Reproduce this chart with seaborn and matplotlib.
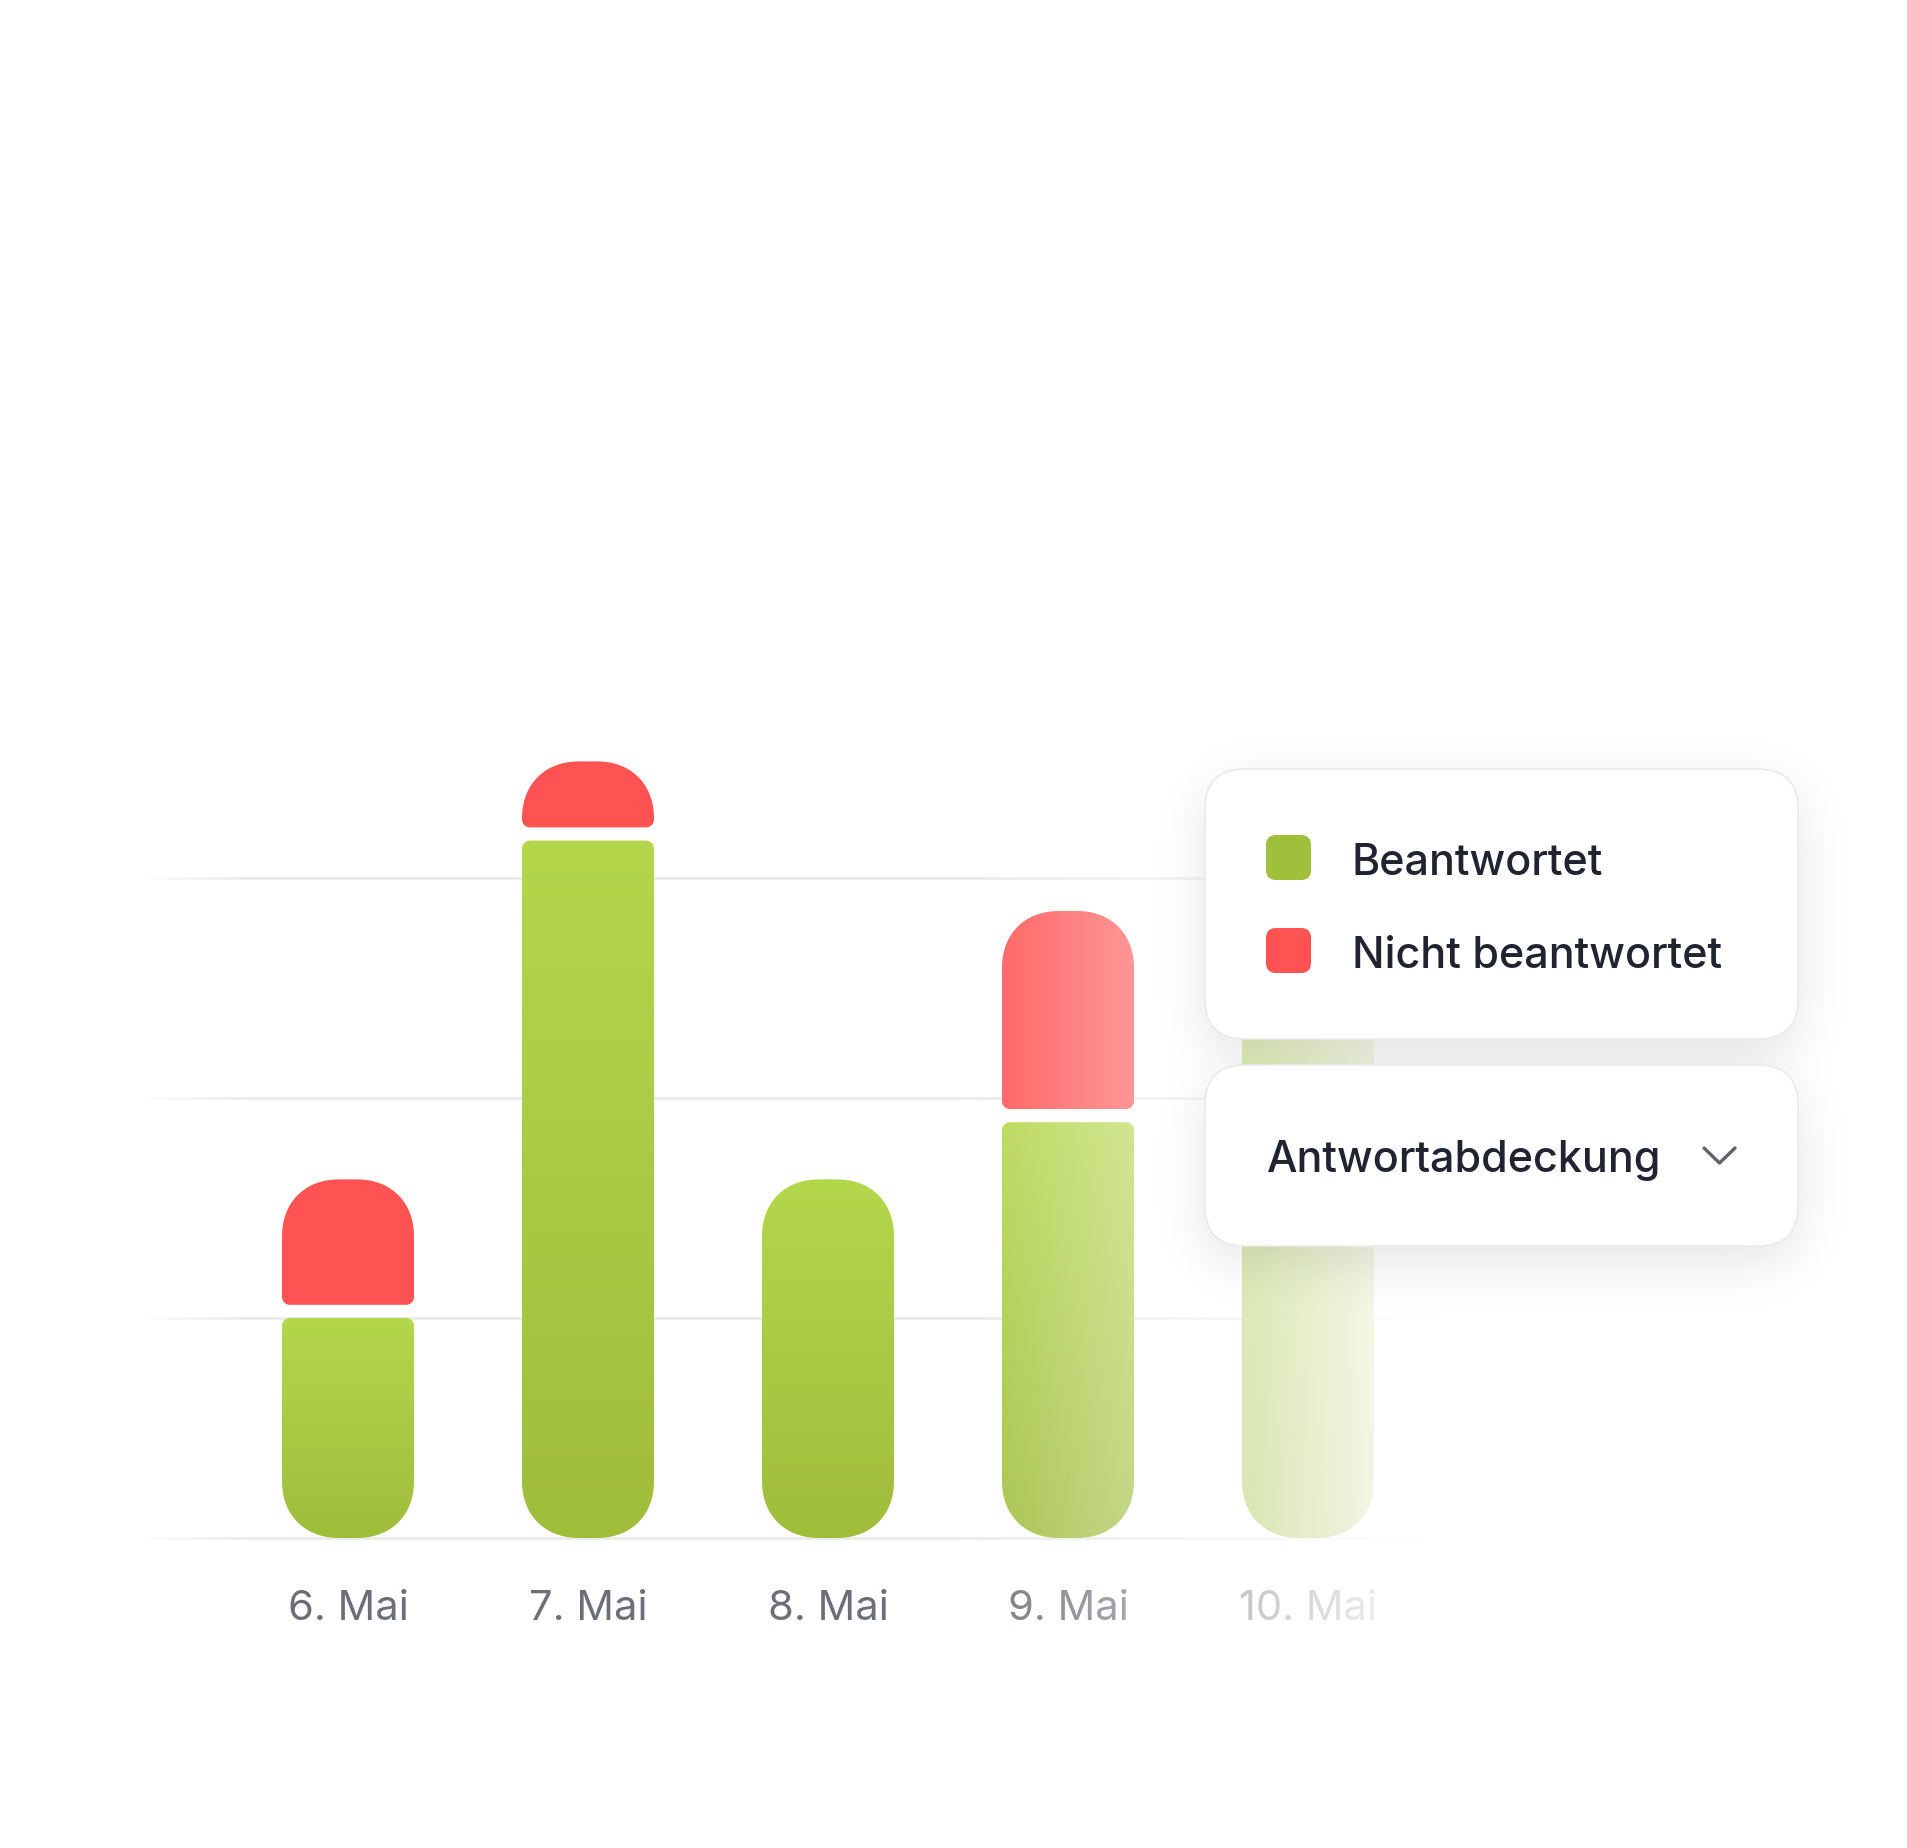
import numpy as np
import pandas as pd
import matplotlib
matplotlib.use("Agg")
import matplotlib.pyplot as plt
import seaborn as sns
from matplotlib.path import Path
from matplotlib.patches import PathPatch, FancyBboxPatch
from matplotlib.lines import Line2D

# ---------------- data ----------------
days = ["6. Mai", "7. Mai", "8. Mai", "9. Mai", "10. Mai"]
answered = [10.0, 31.7, 16.3, 18.9, 26.0]
not_answered = [5.7, 3.0, 0.0, 9.0, 0.0]
grid_values = [0, 10, 20, 30]
legend_labels = ["Beantwortet", "Nicht beantwortet"]
dropdown_label = "Antwortabdeckung"

# ---------------- style ----------------
W, H = 1908, 1848
DPI = 100
GREEN_TOP = "#b4d64b"
GREEN_BOT = "#9fbd3b"
RED = "#ff5252"
LEG_GREEN = "#a0c03c"
TEXT_DARK = "#1f2430"
TICK_COLOR = "#6c6f78"
GAP = 0.6          # visual gap between stacked segments (value units)
BASE_PX = 1538     # baseline, pixels from top
PX_PER_UNIT = 22.0
CAT_PX = 240.0
FIRST_CENTER_PX = 348.0
BIG_R = 58
SMALL_R = 8
SE_N = 2.2         # superellipse exponent for smooth corners

sns.set_theme(style="white")
plt.rcParams['font.family'] = ['Inter', 'DejaVu Sans']

fig = plt.figure(figsize=(W / DPI, H / DPI), dpi=DPI)
fig.patch.set_facecolor("white")
ax = fig.add_axes([0, (H - BASE_PX) / H, 1, BASE_PX / H])
ax.patch.set_alpha(0)

df = pd.DataFrame({"day": days, "answered": answered, "not_answered": not_answered})
df["top"] = [a + GAP + n if n > 0 else a for a, n in zip(answered, not_answered)]

sns.barplot(data=df, x="day", y="answered", color=GREEN_BOT, width=0.55, ax=ax)
green_patches = list(ax.patches)

ax.set_xlim(-FIRST_CENTER_PX / CAT_PX, (W - FIRST_CENTER_PX) / CAT_PX)
ax.set_ylim(0, BASE_PX / PX_PER_UNIT)
ax.set_autoscale_on(False)

to_px = ax.transData
to_data = ax.transData.inverted()


def arc(cx, cy, r, a0, a1, n=40):
    t = np.radians(np.linspace(a0, a1, n))
    c, s = np.cos(t), np.sin(t)
    e = 2.0 / SE_N if r > 20 else 1.0
    return np.column_stack([cx + r * np.sign(c) * np.abs(c) ** e,
                            cy + r * np.sign(s) * np.abs(s) ** e])


def rounded_patch(xd0, xd1, yd0, yd1, rt, rb, **kw):
    (x0, y0), (x1, y1) = to_px.transform([(xd0, yd0), (xd1, yd1)])
    h = y1 - y0
    if rt + rb > h:
        rt = h - rb
    v = np.vstack([
        arc(x1 - rb, y0 + rb, rb, 270, 360),
        arc(x1 - rt, y1 - rt, rt, 0, 90),
        arc(x0 + rt, y1 - rt, rt, 90, 180),
        arc(x0 + rb, y0 + rb, rb, 180, 270),
    ])
    v = np.vstack([v, v[:1]])
    vd = to_data.transform(v)
    codes = [Path.MOVETO] + [Path.LINETO] * (len(vd) - 2) + [Path.CLOSEPOLY]
    return PathPatch(Path(vd, codes), **kw)


def hex2rgb(c):
    c = c.lstrip("#")
    return np.array([int(c[i:i + 2], 16) / 255 for i in (0, 2, 4)])


grad = np.linspace(0, 1, 256)[:, None, None]
green_img = (1 - grad) * hex2rgb(GREEN_TOP) + grad * hex2rgb(GREEN_BOT)

for i, p in enumerate(green_patches):
    xd0 = p.get_x()
    xd1 = xd0 + p.get_width()
    a = p.get_height()
    n = not_answered[i]
    p.set_visible(False)
    # green segment
    rt = SMALL_R if n > 0 else BIG_R
    gp = rounded_patch(xd0, xd1, 0, a, rt, BIG_R, facecolor="none", edgecolor="none")
    ax.add_patch(gp)
    im = ax.imshow(green_img, extent=(xd0, xd1, 0, a), origin="upper",
                   aspect="auto", interpolation="bilinear", zorder=2)
    im.set_clip_path(gp)
    # red segment
    if n > 0:
        rp = rounded_patch(xd0, xd1, a + GAP, df["top"][i], BIG_R, SMALL_R,
                           facecolor=RED, edgecolor="none", zorder=2)
        ax.add_patch(rp)

# gridlines
gx0 = to_data.transform((150, 0))[0]
gx1 = to_data.transform((1460, 0))[0]
ax.hlines(grid_values, gx0, gx1, colors="#e9e9ea", linewidth=1.9, zorder=1, clip_on=False)

# axes styling
ax.set_xlabel("")
ax.set_ylabel("")
ax.set_yticks([])
for s in ax.spines.values():
    s.set_visible(False)
ax.set_xticks(range(len(days)))
ax.set_xticklabels(days)
ax.tick_params(axis="x", length=0, pad=(1620 - BASE_PX) * 72 / DPI,
               labelsize=30, labelcolor=TICK_COLOR)
for t in ax.get_xticklabels():
    t.set_verticalalignment("baseline")

# ---------------- overlay / UI layer (pixel coords) ----------------
ui = fig.add_axes([0, 0, 1, 1], zorder=5)
ui.set_xlim(0, W)
ui.set_ylim(H, 0)
ui.axis("off")
ui.patch.set_alpha(0)

# right fade
xs = np.arange(W) + 0.5
alpha = np.clip((xs - 932) / (1440 - 932), 0, 1)
fade = np.ones((1, W, 4))
fade[0, :, 3] = alpha
ui.imshow(fade, extent=(0, W, 1720, 700), aspect="auto", interpolation="bilinear", zorder=0)

# left fade of gridlines
alpha_l = np.clip((250 - xs) / 100, 0, 1) * 0.85
fadel = np.ones((1, W, 4))
fadel[0, :, 3] = alpha_l
ui.imshow(fadel, extent=(0, W, 1560, 850), aspect="auto", interpolation="bilinear", zorder=0)

# boxes geometry
LEG = (1205, 769, 1798, 1039)
DRP = (1205, 1065, 1798, 1246)
RAD = 40

# shadow
sx0, sx1, sy0, sy1 = 1000, W, 620, 1520
gx = np.arange(sx0, sx1) + 0.5
gy = np.arange(sy0, sy1) + 0.5
XX, YY = np.meshgrid(gx, gy)


def rr_mask(b, r, dy=0.0):
    x0, y0, x1, y1 = b
    y0 += dy
    y1 += dy
    ddx = np.maximum(np.maximum(x0 + r - XX, XX - (x1 - r)), 0)
    ddy = np.maximum(np.maximum(y0 + r - YY, YY - (y1 - r)), 0)
    return (((ddx ** 2 + ddy ** 2) <= r ** 2) & (XX >= x0) & (XX <= x1)
            & (YY >= y0) & (YY <= y1)).astype(np.float32)


mask = np.maximum(rr_mask(LEG, RAD, 16), rr_mask(DRP, RAD, 16))
sig = 26.0
F = np.fft.rfft2(mask)
fy = np.fft.fftfreq(mask.shape[0])[:, None]
fx = np.fft.rfftfreq(mask.shape[1])[None, :]
G = np.exp(-2 * np.pi ** 2 * sig ** 2 * (fx ** 2 + fy ** 2))
blur = np.fft.irfft2(F * G, s=mask.shape)
shadow = np.zeros(mask.shape + (4,), dtype=np.float32)
shadow[..., :3] = 0.12
shadow[..., 3] = np.clip(blur, 0, 1) * 0.12
ui.imshow(shadow, extent=(sx0, sx1, sy1, sy0), aspect="auto", interpolation="bilinear", zorder=1)

for b in (LEG, DRP):
    x0, y0, x1, y1 = b
    ui.add_patch(FancyBboxPatch((x0, y0), x1 - x0, y1 - y0,
                                boxstyle=f"round,pad=0,rounding_size={RAD}",
                                facecolor="white", edgecolor="#ebebeb", linewidth=1.2, zorder=2))

# legend entries
leg_colors = [LEG_GREEN, RED]
leg_rows = [(835, 875), (928, 968)]
for lab, col, (sq_top, base) in zip(legend_labels, leg_colors, leg_rows):
    ui.add_patch(FancyBboxPatch((1266, sq_top), 45, 45,
                                boxstyle="round,pad=0,rounding_size=10",
                                facecolor=col, edgecolor="none", zorder=3))
    ui.text(1352, base, lab, fontsize=31, fontweight="medium", color=TEXT_DARK,
            va="baseline", ha="left", zorder=3)

# dropdown
ui.text(1267, 1172, dropdown_label, fontsize=31, fontweight="medium", color=TEXT_DARK,
        va="baseline", ha="left", zorder=3)
ui.add_line(Line2D([1704, 1719.5, 1735], [1148, 1163, 1148], color="#5f636b",
                   linewidth=2.4, solid_capstyle="round", solid_joinstyle="round", zorder=3))

fig.savefig("out.png", dpi=DPI, facecolor="white")
